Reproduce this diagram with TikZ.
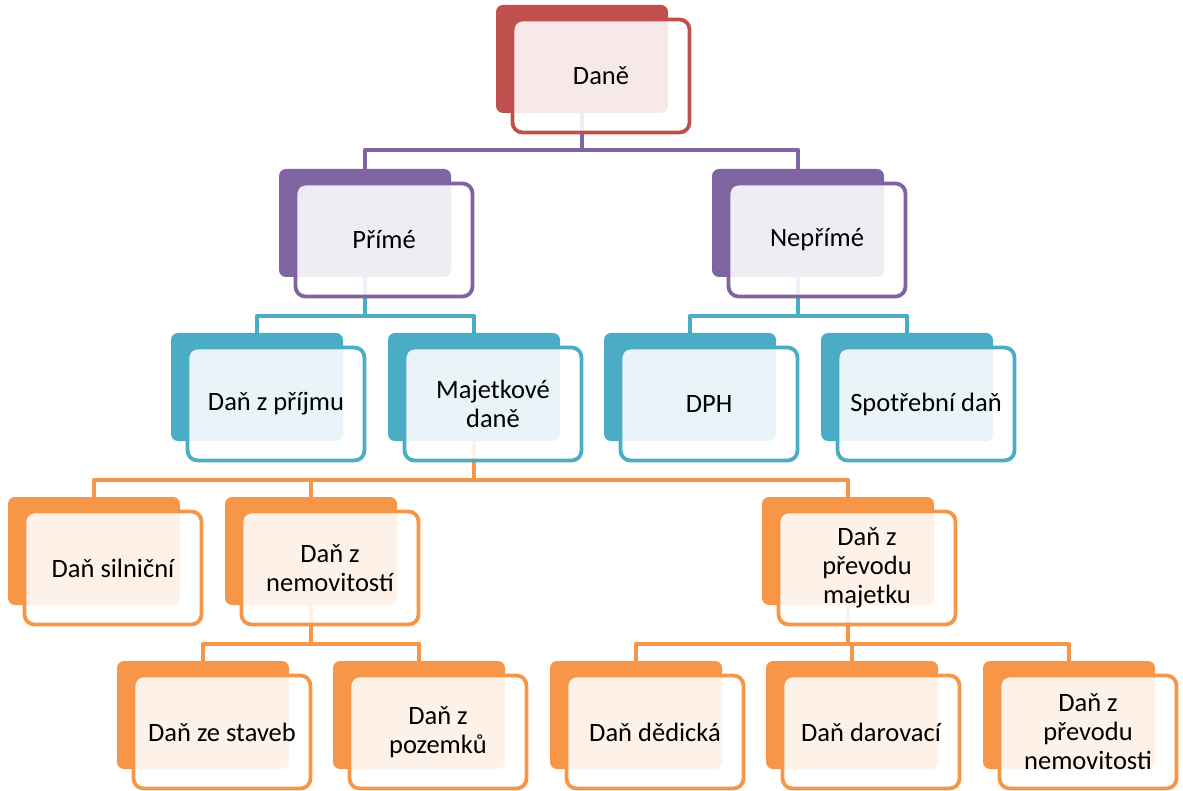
\documentclass[tikz,border=0pt]{standalone}
\usepackage{fontspec}
\setmainfont{Carlito}
\usetikzlibrary{backgrounds}
\definecolor{taxred}{HTML}{C0504D}
\definecolor{taxpurple}{HTML}{8064A2}
\definecolor{taxteal}{HTML}{4BACC6}
\definecolor{taxorange}{HTML}{F79646}
\begin{document}
\begin{tikzpicture}[x=1pt, y=1pt,
        back/.style={rectangle, fill=#1, rounded corners=7pt, inner sep=0pt, minimum width=172pt, minimum height=108pt},
        front/.style={rectangle, draw=#1, line width=3.8pt, fill=white, fill opacity=0.88, text opacity=1, rounded corners=10pt, minimum width=177pt, minimum height=113pt, inner sep=2pt, align=center, font=\fontsize{26.5}{29}\selectfont},
        link/.style={draw=#1, line width=4pt, line join=round}
    ]
        \useasboundingbox (0,0) rectangle (1183,-791);

        % back boxes
        \node[back=taxred] (daneb) at (582,-59) {};
        \node[back=taxpurple] (primeb) at (365,-223) {};
        \node[back=taxpurple] (neprimeb) at (798,-223) {};
        \node[back=taxteal] (prijemb) at (257,-387) {};
        \node[back=taxteal] (majetekb) at (474,-387) {};
        \node[back=taxteal] (dphb) at (690,-387) {};
        \node[back=taxteal] (spotrebab) at (907,-387) {};
        \node[back=taxorange] (silnicnib) at (94,-551) {};
        \node[back=taxorange] (nemovitostib) at (311,-551) {};
        \node[back=taxorange] (prevodb) at (848,-551) {};
        \node[back=taxorange] (stavbyb) at (203,-715) {};
        \node[back=taxorange] (pozemkyb) at (419,-715) {};
        \node[back=taxorange] (dedickab) at (636,-715) {};
        \node[back=taxorange] (darovacib) at (852,-715) {};
        \node[back=taxorange] (prevodnemb) at (1069,-715) {};

        % front boxes with text
        \node[front=taxred] (dane) at ([shift={(19,-17)}]daneb.center) {Daně};
        \node[front=taxpurple] (prime) at ([shift={(19,-17)}]primeb.center) {Přímé};
        \node[front=taxpurple] (neprime) at ([shift={(19,-17)}]neprimeb.center) {Nepřímé};
        \node[front=taxteal] (prijem) at ([shift={(19,-17)}]prijemb.center) {Daň z příjmu};
        \node[front=taxteal] (majetek) at ([shift={(19,-17)}]majetekb.center) {Majetkové\\daně};
        \node[front=taxteal] (dph) at ([shift={(19,-17)}]dphb.center) {DPH};
        \node[front=taxteal] (spotreba) at ([shift={(19,-17)}]spotrebab.center) {Spotřební daň};
        \node[front=taxorange] (silnicni) at ([shift={(19,-17)}]silnicnib.center) {Daň silniční};
        \node[front=taxorange] (nemovitosti) at ([shift={(19,-17)}]nemovitostib.center) {Daň z\\nemovitostí};
        \node[front=taxorange] (prevod) at ([shift={(19,-17)}]prevodb.center) {Daň z\\převodu\\majetku};
        \node[front=taxorange] (stavby) at ([shift={(19,-17)}]stavbyb.center) {Daň ze staveb};
        \node[front=taxorange] (pozemky) at ([shift={(19,-17)}]pozemkyb.center) {Daň z\\pozemků};
        \node[front=taxorange] (dedicka) at ([shift={(19,-17)}]dedickab.center) {Daň dědická};
        \node[front=taxorange] (darovaci) at ([shift={(19,-17)}]darovacib.center) {Daň darovací};
        \node[front=taxorange] (prevodnem) at ([shift={(19,-17)}]prevodnemb.center) {Daň z\\převodu\\nemovitosti};

        % connectors
        \begin{scope}[on background layer]
            \foreach \child in {primeb, neprimeb}
                \draw[link=taxpurple] (\child.north) -- ++(0,19) -| (daneb.south);
            \foreach \child in {prijemb, majetekb}
                \draw[link=taxteal] (\child.north) -- ++(0,17) -| (primeb.south);
            \foreach \child in {dphb, spotrebab}
                \draw[link=taxteal] (\child.north) -- ++(0,17) -| (neprimeb.south);
            \foreach \child in {silnicnib, nemovitostib, prevodb}
                \draw[link=taxorange] (\child.north) -- ++(0,17) -| (majetekb.south);
            \foreach \child in {stavbyb, pozemkyb}
                \draw[link=taxorange] (\child.north) -- ++(0,17) -| (nemovitostib.south);
            \foreach \child in {dedickab, darovacib, prevodnemb}
                \draw[link=taxorange] (\child.north) -- ++(0,17) -| (prevodb.south);
        \end{scope}
    \end{tikzpicture}
\end{document}
